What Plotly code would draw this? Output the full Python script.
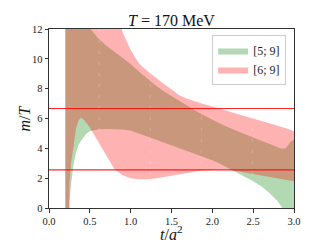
import plotly.graph_objects as go

# ---- data ----
t = [0.2, 0.21, 0.22, 0.23, 0.24, 0.25, 0.27, 0.3, 0.33, 0.36, 0.39, 0.42, 0.46,
     0.5, 0.55, 0.6, 0.7, 0.8, 0.9, 1.0, 1.1, 1.2, 1.3, 1.4, 1.5, 1.6, 1.7, 1.8,
     1.9, 2.0, 2.1, 2.2, 2.3, 2.4, 2.5, 2.6, 2.7, 2.8, 2.85, 2.9, 2.93, 2.96, 3.0]

# fit range [5; 9]
green_lower = [-60, -25, -12, -5, -1.5, 0.3, 1.6, 2.9, 3.7, 4.2, 4.5, 4.75, 5.0,
               5.15, 5.22, 5.26, 5.3, 5.3, 5.27, 5.2, 5.05, 4.85, 4.65, 4.43, 4.22, 4.02, 3.82, 3.6,
               3.4, 3.2, 2.95, 2.65, 2.4, 2.1, 1.8, 1.45, 1.0, 0.45, 0.1, -0.3, -0.55, -0.8, -1.1]
green_upper = [60, 45, 38, 33, 29, 26, 22, 19, 17, 15.5, 14.4, 13.5, 12.6,
               12.05, 11.7, 11.4, 10.9, 10.5, 10.1, 9.65, 9.15, 8.68, 8.25, 7.85, 7.5, 7.15, 6.8, 6.5,
               6.2, 5.9, 5.65, 5.4, 5.2, 4.95, 4.72, 4.5, 4.3, 4.05, 3.97, 4.0, 4.2, 4.45, 4.6]

# fit range [6; 9]
red_lower = [-40, -12, -5, -1.5, 0.4, 1.6, 3.0, 4.3, 5.3, 5.85, 6.05, 5.95, 5.7,
             5.4, 5.0, 4.45, 3.55, 2.62, 2.2, 2.0, 1.92, 1.93, 1.98, 2.06, 2.15, 2.25, 2.35, 2.44,
             2.52, 2.57, 2.58, 2.56, 2.48, 2.4, 2.3, 2.2, 2.1, 2.0, 1.95, 1.9, 1.87, 1.84, 1.8]
red_upper = [90, 84, 78, 73, 68, 64, 57, 50, 44, 39, 35, 31, 28,
             26, 23, 20, 16, 13.5, 11.8, 10.6, 9.7, 9.2, 8.75, 8.35, 7.95, 7.55, 7.3, 7.1,
             6.95, 6.8, 6.65, 6.5, 6.33, 6.15, 6.0, 5.85, 5.7, 5.52, 5.44, 5.35, 5.3, 5.24, 5.15]

series_names = ["[5; 9]", "[6; 9]"]
hline_vals = [6.67, 2.55]
grid_x = [0.615, 1.24, 1.865, 2.49]
x_ticks = [0.0, 0.5, 1.0, 1.5, 2.0, 2.5, 3.0]
y_ticks = [0, 2, 4, 6, 8, 10, 12]

FONT = "Liberation Serif"

fig = go.Figure()

def band(lo, hi, name, color):
    fig.add_trace(go.Scatter(
        x=t + t[::-1], y=hi + lo[::-1], fill="toself", mode="lines",
        line=dict(width=0, color=color), fillcolor=color, name=name,
        hoverinfo="skip"))

band(green_lower, green_upper, series_names[0], "rgba(0,128,0,0.3)")
band(red_lower, red_upper, series_names[1], "rgba(255,0,0,0.3)")

for gx in grid_x:
    fig.add_shape(type="line", xref="x", yref="paper", x0=gx, x1=gx, y0=0, y1=1,
                  line=dict(color="rgba(255,255,255,0.22)", width=1, dash="3px,8px"),
                  layer="above")

for hv in hline_vals:
    fig.add_shape(type="line", xref="paper", yref="y", x0=0, x1=1, y0=hv, y1=hv,
                  line=dict(color="rgba(255,0,0,0.85)", width=1.2), layer="above")

axis_common = dict(showline=True, mirror=True, linecolor="#333", linewidth=1,
                   ticks="outside", ticklen=3.5, tickcolor="#333", showgrid=False,
                   zeroline=False, automargin=False,
                   tickfont=dict(family=FONT, size=10.5, color="#222"))

fig.update_layout(
    width=327, height=245,
    margin=dict(l=49, r=33, t=29, b=37, autoexpand=False),
    paper_bgcolor="white", plot_bgcolor="white",
    title=dict(text="<i>T</i> = 170 MeV", x=0.5, xref="paper", xanchor="center",
               y=1, yref="paper", yanchor="bottom", pad=dict(b=3),
               font=dict(family=FONT, size=16, color="#111")),
    xaxis=dict(range=[0, 3], tickvals=x_ticks, tickformat=".1f", **axis_common),
    yaxis=dict(range=[0, 12], tickvals=y_ticks, **axis_common),
    legend=dict(x=0.968, y=0.966, xanchor="right", yanchor="top",
                bgcolor="rgba(255,255,255,0.85)", bordercolor="#ccc", borderwidth=1,
                font=dict(family=FONT, size=12, color="#222"),
                itemwidth=30, tracegroupgap=0),
    showlegend=True,
    annotations=[
        dict(text="<i>t</i>/<i>a</i><sup>2</sup>", xref="paper", yref="paper",
             x=0.5, y=-0.14, xanchor="center", yanchor="middle", showarrow=False,
             font=dict(family=FONT, size=16, color="#111")),
        dict(text="<i>m</i>/<i>T</i>", xref="paper", yref="paper",
             x=-0.098, y=0.5, xanchor="center", yanchor="middle", showarrow=False,
             textangle=-90, font=dict(family=FONT, size=16, color="#111")),
    ],
)

fig.write_html("out.html", config={"displayModeBar": False},
               post_script="document.body.style.margin='0px';document.body.style.padding='0px';")
